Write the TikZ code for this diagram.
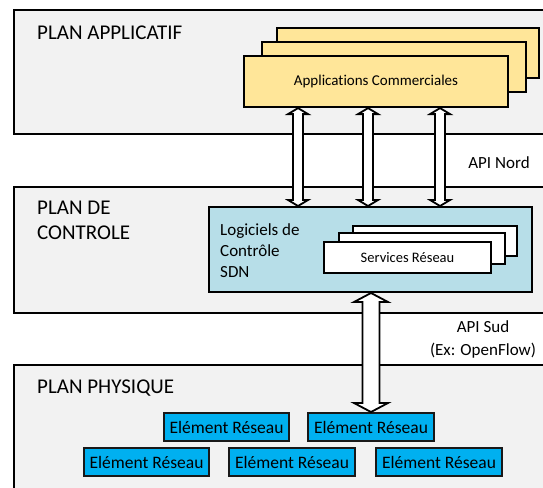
\documentclass[tikz,border=0pt]{standalone}
\usepackage{fontspec}
\setmainfont{Carlito}[Ligatures=NoCommon]
\usetikzlibrary{calc}
\definecolor{panelgray}{HTML}{F2F2F2}
\definecolor{appyellow}{HTML}{FFE699}
\definecolor{sdnblue}{HTML}{B7DEE8}
\definecolor{elemblue}{HTML}{00B0F0}
\newcommand{\dblarrow}[5]{%
  \draw[arrowshape] let \p1=(#1), \p2=(#2) in
    (\x1,\y1) -- (\x1+#4,\y1-#5) -- (\x1+#3,\y1-#5) -- (\x1+#3,\y2+#5)
    -- (\x1+#4,\y2+#5) -- (\x1,\y2) -- (\x1-#4,\y2+#5) -- (\x1-#3,\y2+#5)
    -- (\x1-#3,\y1-#5) -- (\x1-#4,\y1-#5) -- cycle;}
\begin{document}
\begin{tikzpicture}[x=1pt,y=-1pt,
  panel/.style={draw=black, line width=1.8pt, fill=panelgray},
  title/.style={anchor=west, inner sep=0pt, align=left, font=\fontsize{21}{25}\selectfont},
  lbl/.style={inner sep=0pt, align=center, font=\fontsize{17}{23}\selectfont},
  appbox/.style={draw=black, line width=2.2pt, fill=appyellow, minimum width=264pt, minimum height=50pt, inner sep=0pt, font=\fontsize{15}{18}\selectfont},
  sdnbox/.style={draw=black, line width=2pt, fill=sdnblue, minimum width=323pt, minimum height=85pt, inner sep=0pt},
  svcbox/.style={draw=black, line width=2pt, fill=white, minimum width=166pt, minimum height=31pt, inner sep=0pt, font=\fontsize{14.5}{17}\selectfont},
  elembox/.style={draw=black!90, line width=2pt, fill=elemblue, minimum width=125pt, minimum height=28pt, inner sep=0pt, font=\fontsize{17.5}{20}\selectfont},
  arrowshape/.style={draw=black, fill=white, line width=1.8pt, line join=miter}
]
\useasboundingbox (0,0) rectangle (543,487);
% panels
\draw[panel] (14,10) rectangle (570,134);
\draw[panel] (14,187) rectangle (570,313);
\draw[panel] (14,365) rectangle (570,510);
% titles
\node[title] (tapp) at (37,33) {PLAN APPLICATIF};
\node[title] (tctl) at (37,220) {PLAN DE\\CONTROLE};
\node[title] (tphy) at (37,388) {PLAN PHYSIQUE};
% application stack
\node[appbox, minimum width=262pt] (app3) at (408,53) {};
\node[appbox] (app2) at (394,67) {};
\node[appbox, minimum height=51pt] (app1) at (376,81.5) {Applications Commerciales};
% SDN box
\node[sdnbox] (sdn) at (370.5,249.5) {};
\node[anchor=west, inner sep=0pt, align=left, font=\fontsize{17}{21}\selectfont] (sdntxt) at (220,251) {Logiciels de\\Contrôle\\SDN};
\node[svcbox, minimum width=164pt, minimum height=30pt] (svc3) at (435,241) {};
\node[svcbox] (svc2) at (422,248.5) {};
\node[svcbox, minimum width=167pt] (svc1) at (407.5,257.5) {Services Réseau};
% elements
\node[elembox] (e1) at (226.5,427) {Elément Réseau};
\node[elembox, minimum width=126pt] (e2) at (371,427) {Elément Réseau};
\node[elembox] (e3) at (146.5,462) {Elément Réseau};
\node[elembox, minimum width=126pt] (e4) at (292,462) {Elément Réseau};
\node[elembox, minimum width=126pt] (e5) at (439,462) {Elément Réseau};
% labels
\node[lbl] (nord) at (499,163) {API Nord};
\node[lbl] (sud) at (483,339.5) {API Sud\\(Ex: OpenFlow)};
% arrows
\dblarrow{298,0 |- app1.south}{298,0 |- sdn.north}{5pt}{10pt}{6pt}
\dblarrow{368,0 |- app1.south}{368,0 |- sdn.north}{5pt}{10pt}{6pt}
\dblarrow{440,0 |- app1.south}{440,0 |- sdn.north}{5pt}{10pt}{6pt}
\dblarrow{e2.north |- sdn.south}{e2.north}{8.5pt}{17pt}{9pt}
\end{tikzpicture}
\end{document}
